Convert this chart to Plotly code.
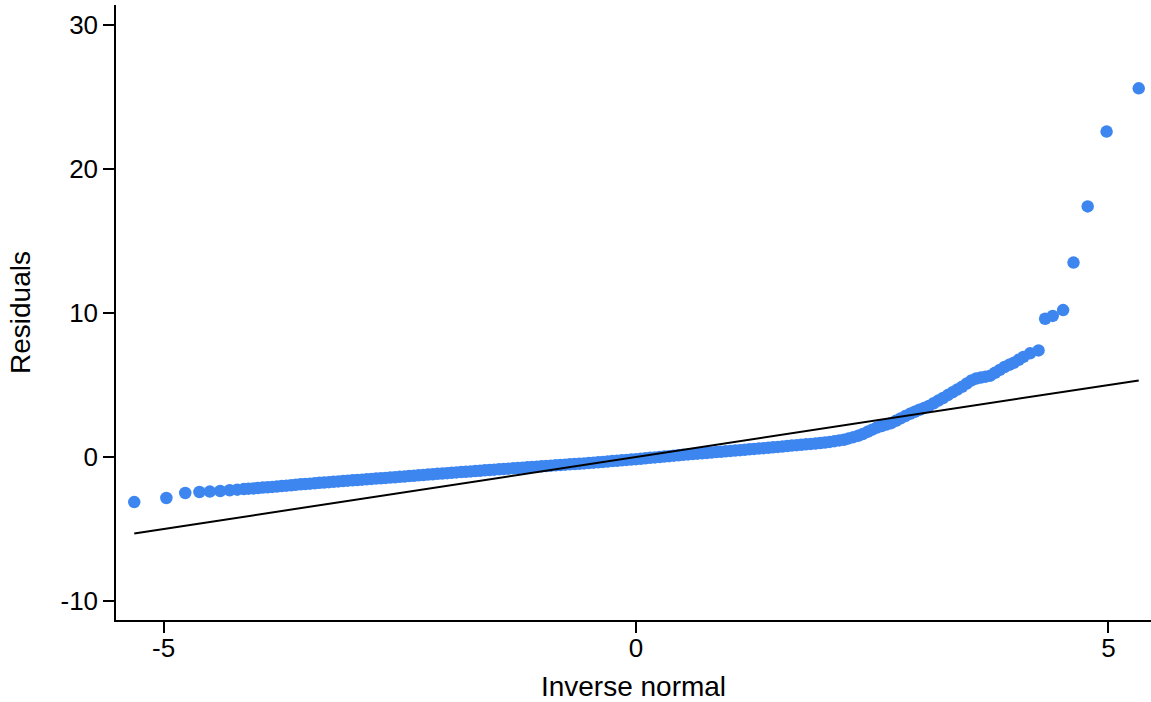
import plotly.graph_objects as go

# Quantile points (inverse normal, residual)
inv_normal = [
    -5.31, -4.97, -4.77, -4.62, -4.51, -4.40, -4.30, -4.22, -4.15, -4.10, -4.05,
    -4.00, -3.95, -3.90, -3.85, -3.80, -3.75, -3.70, -3.65, -3.60, -3.55, -3.50, -3.45, -3.40,
    -3.35, -3.30, -3.25, -3.20, -3.15, -3.10, -3.05, -3.00,
    -2.95, -2.90, -2.85, -2.80, -2.75, -2.70, -2.65, -2.60, -2.55, -2.50,
    -2.45, -2.40, -2.35, -2.30, -2.25, -2.20, -2.15, -2.10, -2.05, -2.00,
    -1.95, -1.90, -1.85, -1.80, -1.75, -1.70, -1.65, -1.60, -1.55, -1.50,
    -1.45, -1.40, -1.35, -1.30, -1.25, -1.20, -1.15, -1.10, -1.05, -1.00,
    -0.95, -0.90, -0.85, -0.80, -0.75, -0.70, -0.65, -0.60, -0.55, -0.50,
    -0.45, -0.40, -0.35, -0.30, -0.25, -0.20, -0.15, -0.10, -0.05, 0.00,
    0.05, 0.10, 0.15, 0.20, 0.25, 0.30, 0.35, 0.40, 0.45, 0.50,
    0.55, 0.60, 0.65, 0.70, 0.75, 0.80, 0.85, 0.90, 0.95, 1.00,
    1.05, 1.10, 1.15, 1.20, 1.25, 1.30, 1.35, 1.40, 1.45, 1.50,
    1.55, 1.60, 1.65, 1.70, 1.75, 1.80, 1.85, 1.90, 1.95, 2.00,
    2.05, 2.10, 2.15, 2.20, 2.25, 2.30, 2.35, 2.40, 2.45, 2.50,
    2.55, 2.60, 2.65, 2.70, 2.75, 2.80, 2.85, 2.90, 2.95, 3.00,
    3.05, 3.10, 3.15, 3.20, 3.25, 3.30, 3.35, 3.40, 3.45, 3.50,
    3.55, 3.60, 3.65, 3.70, 3.75, 3.80, 3.85, 3.90, 3.95, 4.00,
    4.05, 4.10, 4.17, 4.26, 4.33, 4.41, 4.52, 4.63, 4.78, 4.98, 5.32,
]
residuals = [
    -3.13, -2.85, -2.50, -2.43, -2.40, -2.36, -2.31, -2.27, -2.23, -2.20, -2.18,
    -2.15, -2.125, -2.10, -2.075, -2.05, -2.02, -1.99, -1.96, -1.93, -1.90, -1.875, -1.85, -1.82,
    -1.795, -1.77, -1.745, -1.72, -1.695, -1.67, -1.645, -1.62,
    -1.596, -1.572, -1.548, -1.524, -1.50, -1.476, -1.452, -1.428, -1.404, -1.38,
    -1.354, -1.328, -1.302, -1.276, -1.25, -1.224, -1.198, -1.172, -1.146, -1.12,
    -1.096, -1.072, -1.048, -1.024, -1.00, -0.976, -0.952, -0.928, -0.904, -0.88,
    -0.857, -0.834, -0.811, -0.788, -0.765, -0.742, -0.719, -0.696, -0.673, -0.65,
    -0.627, -0.604, -0.581, -0.558, -0.535, -0.512, -0.489, -0.466, -0.443, -0.42,
    -0.393, -0.366, -0.339, -0.312, -0.285, -0.258, -0.231, -0.204, -0.177, -0.15,
    -0.12, -0.09, -0.06, -0.03, 0.00, 0.03, 0.06, 0.09, 0.12, 0.15,
    0.177, 0.204, 0.231, 0.258, 0.285, 0.312, 0.339, 0.366, 0.393, 0.42,
    0.448, 0.476, 0.504, 0.532, 0.56, 0.588, 0.616, 0.644, 0.672, 0.70,
    0.73, 0.76, 0.79, 0.82, 0.85, 0.88, 0.91, 0.94, 0.97, 1.00,
    1.05, 1.10, 1.15, 1.20, 1.29, 1.38, 1.47, 1.60, 1.75, 1.90,
    2.05, 2.15, 2.25, 2.35, 2.51, 2.68, 2.84, 3.00, 3.14, 3.28,
    3.41, 3.55, 3.73, 3.92, 4.10, 4.30, 4.49, 4.68, 4.87, 5.10,
    5.32, 5.45, 5.52, 5.58, 5.65, 5.85, 6.05, 6.25, 6.40, 6.55,
    6.75, 6.95, 7.20, 7.40, 9.60, 9.80, 10.20, 13.50, 17.40, 22.60, 25.60,
]

# Reference (normal) line end points
ref_x = [-5.31, 5.32]
ref_y = [-5.31, 5.32]

x_ticks = [-5, 0, 5]
y_ticks = [-10, 0, 10, 20, 30]

FONT = "Liberation Sans, Arial, Helvetica, sans-serif"

fig = go.Figure()
fig.add_trace(go.Scatter(
    x=inv_normal, y=residuals, mode="markers",
    marker=dict(size=12.5, color="#3d86f0", line=dict(width=0)),
    showlegend=False, hoverinfo="x+y",
))
fig.add_trace(go.Scatter(
    x=ref_x, y=ref_y, mode="lines",
    line=dict(color="black", width=2),
    showlegend=False, hoverinfo="skip",
))

fig.update_layout(
    width=1151, height=702,
    margin=dict(l=116, r=0, t=5, b=82),
    paper_bgcolor="white", plot_bgcolor="white",
    font=dict(family=FONT, size=26, color="black"),
    xaxis=dict(
        range=[-5.503, 5.45], tickvals=x_ticks, ticktext=[str(v) for v in x_ticks],
        showline=True, linecolor="black", linewidth=1.5,
        ticks="outside", ticklen=11, tickwidth=1.5, tickcolor="black",
        showgrid=False, zeroline=False,
        tickfont=dict(size=26), ticklabelstandoff=-7,
        title=dict(text="Inverse normal", font=dict(size=28), standoff=15),
    ),
    yaxis=dict(
        range=[-11.32, 31.39], tickvals=y_ticks, ticktext=[str(v) for v in y_ticks],
        showline=True, linecolor="black", linewidth=1.5,
        ticks="outside", ticklen=11, tickwidth=1.5, tickcolor="black",
        showgrid=False, zeroline=False,
        tickfont=dict(size=26),
        title=dict(text="Residuals", font=dict(size=28), standoff=22),
    ),
)

fig.write_html("out.html", config={"displayModeBar": False},
               post_script="document.body.style.margin='0';")
